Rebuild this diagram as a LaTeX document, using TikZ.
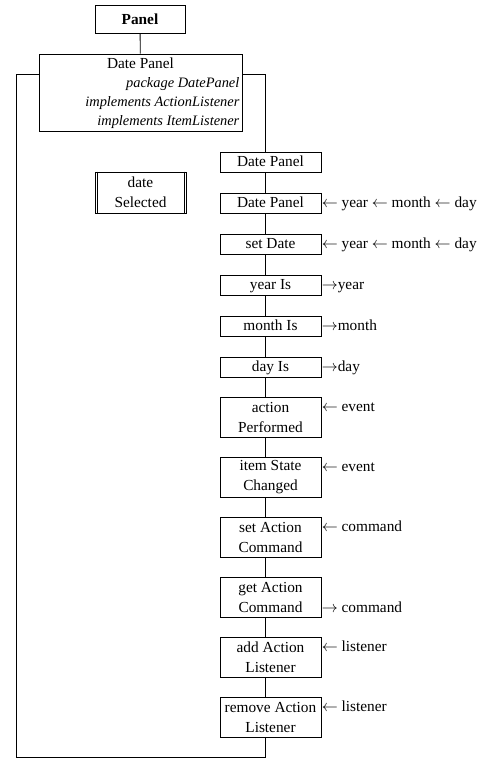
\documentclass[tikz,border=0pt]{standalone}
\usepackage{fontspec}
\setmainfont{Liberation Serif}
\usetikzlibrary{calc}

\tikzset{
    txt/.style={font=\fontsize{11.5}{15}\selectfont},
    method/.style={draw, txt, minimum width=75.75pt, minimum height=15pt, inner sep=0pt, align=center},
    method1/.style={method, text height=9pt, text depth=2pt},
    method2/.style={method, minimum height=30pt},
    lbl/.style={txt, anchor=west, inner sep=0pt, text height=9pt, text depth=2pt}
}

\begin{document}
\begin{tikzpicture}[x=0.75pt, y=-0.75pt, line width=0.6pt]
    \useasboundingbox (0,0) rectangle (487,763);
    \coordinate (spine) at (265,0);
    \coordinate (loopy) at (0,74);
    \coordinate (cl) at (16,757);
    % class boxes
    \node[method, minimum width=67.5pt, minimum height=21pt, font=\fontsize{11.5}{15}\selectfont\bfseries] (panel) at (140,19) {Panel};
    \node[draw, minimum width=152.25pt, minimum height=57.75pt] (dp) at (140.5,92.5) {};
    \node[txt, anchor=north, inner sep=3pt] (dptitle) at (dp.north) {Date Panel};
    \node[anchor=south east, inner sep=2pt, align=right, font=\fontsize{10.8}{14.25}\selectfont\itshape] (dpinfo) at (dp.south east)
        {package DatePanel\\implements ActionListener\\implements ItemListener};
    \draw (panel) -- (dp);
    % field
    \node[method, minimum width=68.25pt, minimum height=30.75pt] (sel) at (140.5,192.5) {date\\Selected};
    \draw ([xshift=1.75pt]sel.north west) -- ([xshift=1.75pt]sel.south west);
    \draw ([xshift=-1.75pt]sel.north east) -- ([xshift=-1.75pt]sel.south east);
    % methods
    \foreach \n/\y/\t in {1/162/Date Panel, 2/203/Date Panel, 3/244/set Date, 4/285/year Is, 5/326/month Is, 6/367/day Is}
        \node[method1] (m\n) at (270.5,\y) {\t};
    \foreach \n/\y/\t in {7/417.5/{action\\Performed}, 8/477.5/{item State\\Changed}, 9/537.5/{set Action\\Command},
                          10/597.5/{get Action\\Command}, 11/657.5/{add Action\\Listener}, 12/717.5/{remove Action\\Listener}}
        \node[method2] (m\n) at (270.5,\y) {\t};
    \foreach \a/\b in {1/2, 2/3, 3/4, 4/5, 5/6, 6/7, 7/8, 8/9, 9/10, 10/11, 11/12}
        \draw (m\a.south -| spine) -- (m\b.north -| spine);
    % loop round the class
    \draw (dp.west |- loopy) -| (cl) -| (m12.south -| spine);
    \draw (dp.east |- loopy) -| (m1.north -| spine);
    % parameters
    \node[lbl] (l2) at (m2.east) {$\leftarrow$ year $\leftarrow$ month $\leftarrow$ day};
    \node[lbl] (l3) at (m3.east) {$\leftarrow$ year $\leftarrow$ month $\leftarrow$ day};
    \node[lbl] (l4) at (m4.east) {$\rightarrow$year};
    \node[lbl] (l5) at (m5.east) {$\rightarrow$month};
    \node[lbl] (l6) at (m6.east) {$\rightarrow$day};
    \node[lbl] (l7) at ($(m7.north east)!0.25!(m7.south east)$) {$\leftarrow$ event};
    \node[lbl] (l8) at ($(m8.north east)!0.25!(m8.south east)$) {$\leftarrow$ event};
    \node[lbl] (l9) at ($(m9.north east)!0.25!(m9.south east)$) {$\leftarrow$ command};
    \node[lbl] (l10) at ($(m10.north east)!0.75!(m10.south east)$) {$\rightarrow$ command};
    \node[lbl] (l11) at ($(m11.north east)!0.25!(m11.south east)$) {$\leftarrow$ listener};
    \node[lbl] (l12) at ($(m12.north east)!0.25!(m12.south east)$) {$\leftarrow$ listener};
\end{tikzpicture}
\end{document}
